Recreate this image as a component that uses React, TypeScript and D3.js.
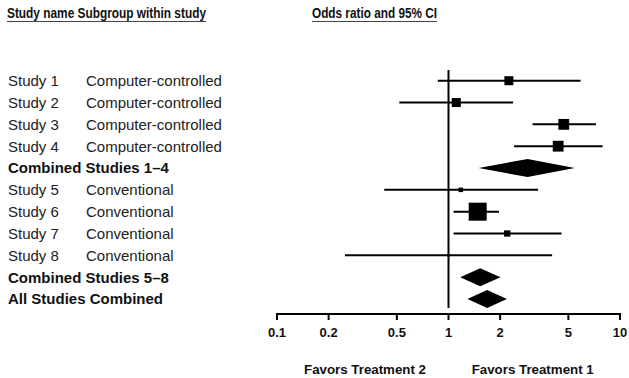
import React from "react";
import * as d3 from "d3";

const studyNames = ["Study 1", "Study 2", "Study 3", "Study 4", "Combined Studies 1–4", "Study 5", "Study 6", "Study 7", "Study 8", "Combined Studies 5–8", "All Studies Combined"];
const subgroups = ["Computer-controlled", "Computer-controlled", "Computer-controlled", "Computer-controlled", "", "Conventional", "Conventional", "Conventional", "Conventional", "", ""];
const isSummary = [false, false, false, false, true, false, false, false, false, true, true];
const oddsRatio = [2.25, 1.11, 4.7, 4.36, 2.89, 1.18, 1.48, 2.2, 1.0, 1.53, 1.68];
const lowerCI = [0.866, 0.517, 3.09, 2.41, 1.5, 0.422, 1.07, 1.07, 0.249, 1.17, 1.29];
const upperCI = [5.89, 2.38, 7.24, 7.92, 5.45, 3.33, 1.97, 4.56, 4.02, 2.01, 2.19];
const weights = [10, 10, 12, 12, 0, 5, 20, 7, 3, 0, 0];
const tickValues = [0.1, 0.2, 0.5, 1, 2, 5, 10];
const tickLabels = ["0.1", "0.2", "0.5", "1", "2", "5", "10"];

const FONT = "'Liberation Sans', Arial, Helvetica, sans-serif";

export default function App() {
  const W = 629, H = 378;
  const x = d3.scaleLog().domain([0.1, 10]).range([277, 620]);
  const y = d3.scalePoint<number>().domain(d3.range(studyNames.length)).range([80.7, 299]);
  const size = d3.scaleLinear().domain([0, 20]).range([0, 18]);
  const axisY = 314;
  const diamondH = 18;

  return (
    <div style={{ position: "absolute", left: 0, top: 0 }}>
      <svg width={W} height={H} style={{ display: "block", background: "#fff" }} fontFamily={FONT}>
        {/* headers */}
        <text x={7} y={18} fontSize={15} fontWeight="bold" fill="#111" textLength={199} lengthAdjust="spacingAndGlyphs">Study name Subgroup within study</text>
        <line x1={7} x2={206} y1={21.5} y2={21.5} stroke="#444" strokeWidth={1} />
        <text x={312} y={18} fontSize={15} fontWeight="bold" fill="#111" textLength={125} lengthAdjust="spacingAndGlyphs">Odds ratio and 95% CI</text>
        <line x1={312} x2={437} y1={21.5} y2={21.5} stroke="#444" strokeWidth={1} />

        {/* row labels */}
        {studyNames.map((n, i) => (
          <g key={"l" + i}>
            <text x={8} y={(y(i) ?? 0)} dy="0.36em" fontSize={15} fontWeight={isSummary[i] ? "bold" : "normal"} fill={isSummary[i] ? "#111" : "#222"}>{n}</text>
            {subgroups[i] && (
              <text x={86} y={(y(i) ?? 0)} dy="0.36em" fontSize={15} fill="#222">{subgroups[i]}</text>
            )}
          </g>
        ))}

        {/* null line */}
        <line x1={x(1)} x2={x(1)} y1={70} y2={308} stroke="#000" strokeWidth={2} />

        {/* marks */}
        {studyNames.map((_, i) => {
          const cy = y(i) ?? 0;
          if (isSummary[i]) {
            const l = x(lowerCI[i]), r = x(upperCI[i]), c = x(oddsRatio[i]);
            const pts = [[l, cy], [c, cy - diamondH / 2], [r, cy], [c, cy + diamondH / 2]];
            return <polygon key={"m" + i} points={pts.map(p => p.join(",")).join(" ")} fill="#000" />;
          }
          const s = size(weights[i]);
          return (
            <g key={"m" + i}>
              <line x1={x(lowerCI[i])} x2={x(upperCI[i])} y1={cy} y2={cy} stroke="#000" strokeWidth={2} />
              <rect x={x(oddsRatio[i]) - s / 2} y={cy - s / 2} width={s} height={s} fill="#000" />
            </g>
          );
        })}

        {/* axis */}
        <line x1={x(0.1)} x2={x(10)} y1={axisY} y2={axisY} stroke="#000" strokeWidth={2} />
        {tickValues.map((t, i) => (
          <g key={"t" + i}>
            <line x1={x(t)} x2={x(t)} y1={axisY - 1} y2={axisY + 6} stroke="#000" strokeWidth={2} />
            <text x={x(t)} y={332} dy="0.36em" textAnchor="middle" fontSize={13} fontWeight="bold" fill="#111">{tickLabels[i]}</text>
          </g>
        ))}

        <text x={304} y={369} dy="0.36em" fontSize={12.5} fontWeight="bold" fill="#111" textLength={122} lengthAdjust="spacingAndGlyphs">Favors Treatment 2</text>
        <text x={471.7} y={369} dy="0.36em" fontSize={12.5} fontWeight="bold" fill="#111" textLength={122} lengthAdjust="spacingAndGlyphs">Favors Treatment 1</text>
      </svg>
    </div>
  );
}
